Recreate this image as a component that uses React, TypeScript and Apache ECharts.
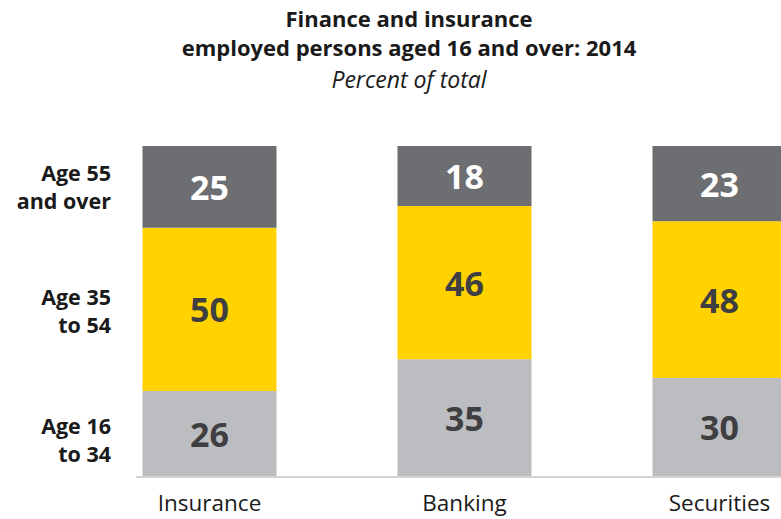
import React, { useEffect, useRef } from "react";
import * as echarts from "echarts";

const categories = ["Insurance", "Banking", "Securities"];
const age16to34 = [26, 35, 30];
const age35to54 = [50, 46, 48];
const age55over = [25, 18, 23];
const seriesNames = ["Age 16 to 34", "Age 35 to 54", "Age 55 and over"];
const sideLabels = ["Age 55\nand over", "Age 35\nto 54", "Age 16\nto 34"];
const titleLines = ["Finance and insurance", "employed persons aged 16 and over: 2014"];
const subtitle = "Percent of total";

const FONT = "'Open Sans'";

export default function App() {
  const ref = useRef<HTMLDivElement>(null);
  useEffect(() => {
    if (!ref.current) return;
    const chart = echarts.init(ref.current, undefined, { renderer: "svg" });
    const groups = [age16to34, age35to54, age55over];
    const totals = categories.map((_, i) => groups.reduce((s, g) => s + g[i], 0));
    const colors = ["#BCBDC0", "#FFD200", "#6D6E71"];
    const labelColors = ["#3F3F41", "#3F3F41", "#FFFFFF"];
    const series = groups.map((g, si) => ({
      type: "bar",
      name: seriesNames[si],
      stack: "total",
      barWidth: 134,
      data: g.map((v, i) => (v / totals[i]) * 100),
      itemStyle: { color: colors[si] },
      label: {
        show: true,
        position: "inside",
        fontFamily: "Open Sans",
        fontSize: 34,
        fontWeight: "bold",
        color: labelColors[si],
        formatter: (p: any) => String(g[p.dataIndex]),
      },
    }));
    chart.setOption({
      animation: false,
      backgroundColor: "#ffffff",
      grid: { left: 82, right: -66, top: 146, bottom: 43, outerBoundsMode: "none", containLabel: false },
      xAxis: {
        type: "category",
        data: categories,
        axisLine: { show: false },
        axisTick: { show: false },
        axisLabel: { fontFamily: "Open Sans", fontSize: 22.5, color: "#1a1a1a", margin: 15 },
      },
      yAxis: { type: "value", min: 0, max: 100, show: false },
      series,
      graphic: [
        {
          type: "text",
          x: 409,
          y: 18,
          style: { text: titleLines[0], font: `bold 22px ${FONT}`, fill: "#1a1a1a", textAlign: "center", textVerticalAlign: "middle" },
        },
        {
          type: "text",
          x: 409,
          y: 47,
          style: { text: titleLines[1], font: `bold 22px ${FONT}`, fill: "#1a1a1a", textAlign: "center", textVerticalAlign: "middle" },
        },
        {
          type: "text",
          x: 409,
          y: 79,
          style: { text: subtitle, font: `italic 23px ${FONT}`, fill: "#1a1a1a", textAlign: "center", textVerticalAlign: "middle" },
        },
        {
          type: "text",
          x: 111,
          y: 186,
          style: { text: sideLabels[0], font: `bold 21.5px ${FONT}`, lineHeight: 28, fill: "#1a1a1a", textAlign: "right", textVerticalAlign: "middle" },
        },
        {
          type: "text",
          x: 111,
          y: 310,
          style: { text: sideLabels[1], font: `bold 21.5px ${FONT}`, lineHeight: 28, fill: "#1a1a1a", textAlign: "right", textVerticalAlign: "middle" },
        },
        {
          type: "text",
          x: 111,
          y: 439,
          style: { text: sideLabels[2], font: `bold 21.5px ${FONT}`, lineHeight: 28, fill: "#1a1a1a", textAlign: "right", textVerticalAlign: "middle" },
        },
        {
          type: "line",
          shape: { x1: 136, y1: 477, x2: 781, y2: 477 },
          style: { stroke: "#C4C4C4", lineWidth: 1.5 },
        },
      ],
    });
    return () => chart.dispose();
  }, []);
  return (
    <div
      ref={ref}
      style={{ position: "fixed", left: 0, top: 0, width: 781, height: 519 }}
    />
  );
}
